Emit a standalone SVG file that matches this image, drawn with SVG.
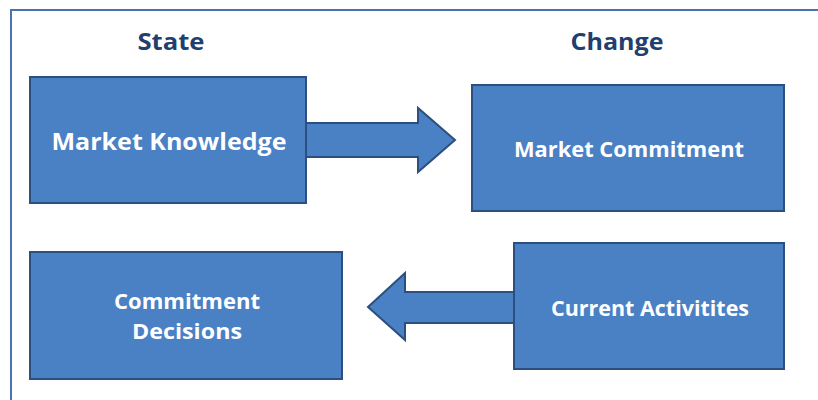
<svg xmlns="http://www.w3.org/2000/svg" width="818" height="400" viewBox="0 0 818 400">
<style>
.box{fill:#4a80c4;stroke:#2b4f7e;stroke-width:2}
.arr{fill:#4a80c4;stroke:#2b4f7e;stroke-width:2;stroke-linejoin:miter}
.lbl{font-family:"Open Sans","Liberation Sans",sans-serif;font-weight:bold;fill:#ffffff;text-anchor:middle}
.hdr{font-family:"Open Sans","Liberation Sans",sans-serif;font-weight:bold;fill:#1f3f6e;text-anchor:middle;font-size:24px}
</style>
<rect x="0" y="0" width="818" height="400" fill="#ffffff"/>
<rect x="11" y="10" width="830" height="420" fill="none" stroke="#4a72b0" stroke-width="2"/>
<text class="hdr" x="171" y="50" textLength="67" lengthAdjust="spacingAndGlyphs">State</text>
<text class="hdr" x="617" y="50" textLength="93" lengthAdjust="spacingAndGlyphs">Change</text>
<g id="connectors">
<polygon class="arr" points="306,123 418,123 418,108 455,140 418,172 418,157 306,157"/>
<polygon class="arr" points="514,292 405,292 405,273 368,307 405,340 405,323 514,323"/>
</g>
<g id="market-knowledge">
<rect class="box" x="30" y="77" width="276" height="126"/>
<text class="lbl" x="169" y="150" font-size="23" textLength="235" lengthAdjust="spacingAndGlyphs">Market Knowledge</text>
</g>
<g id="market-commitment">
<rect class="box" x="472" y="85" width="312" height="126"/>
<text class="lbl" x="629" y="157" font-size="21" textLength="230" lengthAdjust="spacingAndGlyphs">Market Commitment</text>
</g>
<g id="commitment-decisions">
<rect class="box" x="30" y="252" width="312" height="127"/>
<text class="lbl" x="187" y="309" font-size="21" textLength="146" lengthAdjust="spacingAndGlyphs">Commitment</text>
<text class="lbl" x="187" y="339" font-size="21" textLength="110" lengthAdjust="spacingAndGlyphs">Decisions</text>
</g>
<g id="current-activities">
<rect class="box" x="514" y="243" width="270" height="126"/>
<text class="lbl" x="650" y="316" font-size="21" textLength="198" lengthAdjust="spacingAndGlyphs">Current Activitites</text>
</g>
</svg>
